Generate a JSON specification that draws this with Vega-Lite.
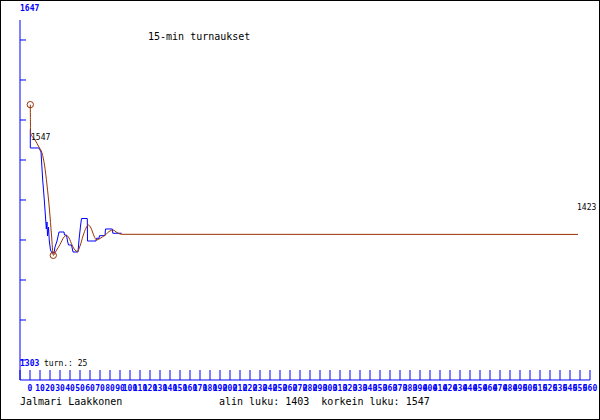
{
  "$schema": "https://vega.github.io/schema/vega-lite/v6.json",
  "width": 600,
  "height": 420,
  "padding": 0,
  "autosize": {"type": "none"},
  "background": "white",
  "config": {"view": {"stroke": "black", "strokeWidth": 2}},
  "datasets": {
    "axes": [
      {"x": -10, "x2": -10, "y": 1627.9, "y2": 1283.9},
      {"x": -10, "x2": 560, "y": 1283.9, "y2": 1283.9}
    ],
    "yticks": [
      {"y": 1608.78}, {"y": 1570.56}, {"y": 1532.33}, {"y": 1494.11}, {"y": 1455.89},
      {"y": 1417.67}, {"y": 1379.44}, {"y": 1341.22}, {"y": 1303}
    ],
    "xt": [
      {"x": -10, "label": ""}, {"x": 0, "label": "0"}, {"x": 10, "label": "10"}, {"x": 20, "label": "20"},
      {"x": 30, "label": "30"}, {"x": 40, "label": "40"}, {"x": 50, "label": "50"}, {"x": 60, "label": "60"},
      {"x": 70, "label": "70"}, {"x": 80, "label": "80"}, {"x": 90, "label": "90"}, {"x": 100, "label": "100"},
      {"x": 110, "label": "110"}, {"x": 120, "label": "120"}, {"x": 130, "label": "130"}, {"x": 140, "label": "140"},
      {"x": 150, "label": "150"}, {"x": 160, "label": "160"}, {"x": 170, "label": "170"}, {"x": 180, "label": "180"},
      {"x": 190, "label": "190"}, {"x": 200, "label": "200"}, {"x": 210, "label": "210"}, {"x": 220, "label": "220"},
      {"x": 230, "label": "230"}, {"x": 240, "label": "240"}, {"x": 250, "label": "250"}, {"x": 260, "label": "260"},
      {"x": 270, "label": "270"}, {"x": 280, "label": "280"}, {"x": 290, "label": "290"}, {"x": 300, "label": "300"},
      {"x": 310, "label": "310"}, {"x": 320, "label": "320"}, {"x": 330, "label": "330"}, {"x": 340, "label": "340"},
      {"x": 350, "label": "350"}, {"x": 360, "label": "360"}, {"x": 370, "label": "370"}, {"x": 380, "label": "380"},
      {"x": 390, "label": "390"}, {"x": 400, "label": "400"}, {"x": 410, "label": "410"}, {"x": 420, "label": "420"},
      {"x": 430, "label": "430"}, {"x": 440, "label": "440"}, {"x": 450, "label": "450"}, {"x": 460, "label": "460"},
      {"x": 470, "label": "470"}, {"x": 480, "label": "480"}, {"x": 490, "label": "490"}, {"x": 500, "label": "500"},
      {"x": 510, "label": "510"}, {"x": 520, "label": "520"}, {"x": 530, "label": "530"}, {"x": 540, "label": "540"},
      {"x": 550, "label": "550"}, {"x": 560, "label": "560"}
    ],
    "blue": [
      {"i": 0, "x": 0.3, "y": 1523.7}, {"i": 1, "x": 0.3, "y": 1505.6}, {"i": 2, "x": 9, "y": 1505.6},
      {"i": 3, "x": 11, "y": 1501.8}, {"i": 4, "x": 12.7, "y": 1475}, {"i": 5, "x": 14.3, "y": 1455.9},
      {"i": 6, "x": 15.7, "y": 1436.8}, {"i": 7, "x": 16.3, "y": 1428.2}, {"i": 8, "x": 17, "y": 1434.9},
      {"i": 9, "x": 17.5, "y": 1421.5}, {"i": 10, "x": 18.5, "y": 1430.1}, {"i": 11, "x": 19.3, "y": 1416.7},
      {"i": 12, "x": 20.5, "y": 1408.1}, {"i": 13, "x": 22, "y": 1405.2}, {"i": 14, "x": 24, "y": 1405.2},
      {"i": 15, "x": 25, "y": 1411}, {"i": 16, "x": 27, "y": 1416.7}, {"i": 17, "x": 29, "y": 1425.3},
      {"i": 18, "x": 34, "y": 1425.3}, {"i": 19, "x": 34.5, "y": 1422.4}, {"i": 20, "x": 36.5, "y": 1422.4},
      {"i": 21, "x": 37.5, "y": 1416.7}, {"i": 22, "x": 38.5, "y": 1412.9}, {"i": 23, "x": 41.5, "y": 1412.9},
      {"i": 24, "x": 43, "y": 1406.2}, {"i": 25, "x": 48, "y": 1406.2}, {"i": 26, "x": 49, "y": 1417.7},
      {"i": 27, "x": 50.5, "y": 1431}, {"i": 28, "x": 51.5, "y": 1438.2}, {"i": 29, "x": 57.3, "y": 1438.2},
      {"i": 30, "x": 57.5, "y": 1416.7}, {"i": 31, "x": 66, "y": 1416.7}, {"i": 32, "x": 66.5, "y": 1419.3},
      {"i": 33, "x": 69, "y": 1419.3}, {"i": 34, "x": 69.5, "y": 1421.8}, {"i": 35, "x": 75, "y": 1421.8},
      {"i": 36, "x": 75.5, "y": 1428.2}, {"i": 37, "x": 82.3, "y": 1428.2}, {"i": 38, "x": 82.8, "y": 1424.1},
      {"i": 39, "x": 91.7, "y": 1424.1}
    ],
    "red": [
      {"i": 0, "x": 0.3, "y": 1547}, {"i": 1, "x": 0.6, "y": 1519.9}, {"i": 2, "x": 5, "y": 1513.2},
      {"i": 3, "x": 9, "y": 1506.5}, {"i": 4, "x": 12, "y": 1500.8}, {"i": 5, "x": 14.5, "y": 1489.3},
      {"i": 6, "x": 17, "y": 1470.2}, {"i": 7, "x": 19.5, "y": 1446.3}, {"i": 8, "x": 21.5, "y": 1422.4},
      {"i": 9, "x": 23.3, "y": 1403}, {"i": 10, "x": 26, "y": 1407.1}, {"i": 11, "x": 30, "y": 1413.4},
      {"i": 12, "x": 34, "y": 1420.5}, {"i": 13, "x": 36.5, "y": 1422}, {"i": 14, "x": 39, "y": 1419.6},
      {"i": 15, "x": 42, "y": 1412.9}, {"i": 16, "x": 45, "y": 1408.1}, {"i": 17, "x": 47.3, "y": 1406.7},
      {"i": 18, "x": 50, "y": 1411.9}, {"i": 19, "x": 53, "y": 1421.5}, {"i": 20, "x": 56, "y": 1429.1},
      {"i": 21, "x": 58.3, "y": 1432}, {"i": 22, "x": 61, "y": 1429.1}, {"i": 23, "x": 64, "y": 1421.5},
      {"i": 24, "x": 66.7, "y": 1417.7}, {"i": 25, "x": 70, "y": 1419.1}, {"i": 26, "x": 75, "y": 1422.4},
      {"i": 27, "x": 80, "y": 1426.3}, {"i": 28, "x": 83, "y": 1427.2}, {"i": 29, "x": 87, "y": 1424.8},
      {"i": 30, "x": 91.7, "y": 1423.1}, {"i": 31, "x": 548, "y": 1423}
    ],
    "extremes": [
      {"x": 0.3, "y": 1547}, {"x": 23.3, "y": 1403}
    ],
    "bluetext": [
      {"x": -10, "y": 1638.0, "label": "1647"},
      {"x": -10, "y": 1299.2, "label": "1303"}
    ],
    "smalltext": [
      {"x": 14, "y": 1299.2, "label": "turn.: 25"},
      {"x": 1, "y": 1515.6, "label": "1547"},
      {"x": 547, "y": 1448.3, "label": "1423"}
    ],
    "bigtext": [
      {"x": 118, "y": 1611.6, "label": "15-min turnaukset"},
      {"x": -10, "y": 1262.9, "label": "Jalmari Laakkonen"},
      {"x": 189, "y": 1262.9, "label": "alin luku: 1403\u00a0\u00a0korkein luku: 1547"}
    ]
  },
  "layer": [
    {
      "data": {"name": "axes"},
      "mark": {"type": "rule", "color": "#0000ff", "strokeWidth": 1},
      "encoding": {
        "x": {"field": "x", "type": "quantitative", "scale": {"domain": [-30, 570], "nice": false, "zero": false}, "axis": null},
        "y": {"field": "y", "type": "quantitative", "scale": {"domain": [1245.667, 1647], "nice": false, "zero": false}, "axis": null},
        "x2": {"field": "x2"},
        "y2": {"field": "y2"}
      }
    },
    {
      "data": {"name": "yticks"},
      "mark": {"type": "rule", "color": "#0000ff", "strokeWidth": 1},
      "encoding": {
        "x": {"datum": -10, "type": "quantitative", "scale": {"domain": [-30, 570], "nice": false, "zero": false}, "axis": null},
        "x2": {"datum": -4},
        "y": {"field": "y", "type": "quantitative", "scale": {"domain": [1245.667, 1647], "nice": false, "zero": false}, "axis": null}
      }
    },
    {
      "data": {"name": "xt"},
      "mark": {"type": "rule", "color": "#0000ff", "strokeWidth": 1},
      "encoding": {
        "x": {"field": "x", "type": "quantitative", "scale": {"domain": [-30, 570], "nice": false, "zero": false}, "axis": null},
        "y": {"datum": 1293.44, "type": "quantitative", "scale": {"domain": [1245.667, 1647], "nice": false, "zero": false}, "axis": null},
        "y2": {"datum": 1283.89}
      }
    },
    {
      "data": {"name": "xt"},
      "mark": {"type": "text", "color": "#0000ff", "font": "DejaVu Sans Mono", "fontSize": 8, "fontWeight": "bold", "align": "center", "baseline": "middle"},
      "encoding": {
        "x": {"field": "x", "type": "quantitative", "scale": {"domain": [-30, 570], "nice": false, "zero": false}, "axis": null},
        "y": {"datum": 1275.3, "type": "quantitative", "scale": {"domain": [1245.667, 1647], "nice": false, "zero": false}, "axis": null},
        "text": {"field": "label"}
      }
    },
    {
      "data": {"name": "blue"},
      "mark": {"type": "line", "color": "#0000ff", "strokeWidth": 1},
      "encoding": {
        "x": {"field": "x", "type": "quantitative", "scale": {"domain": [-30, 570], "nice": false, "zero": false}, "axis": null},
        "y": {"field": "y", "type": "quantitative", "scale": {"domain": [1245.667, 1647], "nice": false, "zero": false}, "axis": null},
        "order": {"field": "i"}
      }
    },
    {
      "data": {"name": "red"},
      "mark": {"type": "line", "color": "#993300", "strokeWidth": 1, "interpolate": "monotone"},
      "encoding": {
        "x": {"field": "x", "type": "quantitative", "scale": {"domain": [-30, 570], "nice": false, "zero": false}, "axis": null},
        "y": {"field": "y", "type": "quantitative", "scale": {"domain": [1245.667, 1647], "nice": false, "zero": false}, "axis": null},
        "order": {"field": "i"}
      }
    },
    {
      "data": {"name": "extremes"},
      "mark": {"type": "point", "shape": "circle", "filled": false, "color": "#993300", "size": 40, "strokeWidth": 1, "opacity": 1},
      "encoding": {
        "x": {"field": "x", "type": "quantitative", "scale": {"domain": [-30, 570], "nice": false, "zero": false}, "axis": null},
        "y": {"field": "y", "type": "quantitative", "scale": {"domain": [1245.667, 1647], "nice": false, "zero": false}, "axis": null}
      }
    },
    {
      "data": {"name": "bluetext"},
      "mark": {"type": "text", "color": "#0000ff", "font": "DejaVu Sans Mono", "fontSize": 8, "fontWeight": "bold", "align": "left", "baseline": "middle"},
      "encoding": {
        "x": {"field": "x", "type": "quantitative", "scale": {"domain": [-30, 570], "nice": false, "zero": false}, "axis": null},
        "y": {"field": "y", "type": "quantitative", "scale": {"domain": [1245.667, 1647], "nice": false, "zero": false}, "axis": null},
        "text": {"field": "label"}
      }
    },
    {
      "data": {"name": "smalltext"},
      "mark": {"type": "text", "color": "black", "font": "DejaVu Sans Mono", "fontSize": 8, "align": "left", "baseline": "middle"},
      "encoding": {
        "x": {"field": "x", "type": "quantitative", "scale": {"domain": [-30, 570], "nice": false, "zero": false}, "axis": null},
        "y": {"field": "y", "type": "quantitative", "scale": {"domain": [1245.667, 1647], "nice": false, "zero": false}, "axis": null},
        "text": {"field": "label"}
      }
    },
    {
      "data": {"name": "bigtext"},
      "mark": {"type": "text", "color": "black", "font": "DejaVu Sans Mono", "fontSize": 10, "align": "left", "baseline": "middle"},
      "encoding": {
        "x": {"field": "x", "type": "quantitative", "scale": {"domain": [-30, 570], "nice": false, "zero": false}, "axis": null},
        "y": {"field": "y", "type": "quantitative", "scale": {"domain": [1245.667, 1647], "nice": false, "zero": false}, "axis": null},
        "text": {"field": "label"}
      }
    }
  ]
}
